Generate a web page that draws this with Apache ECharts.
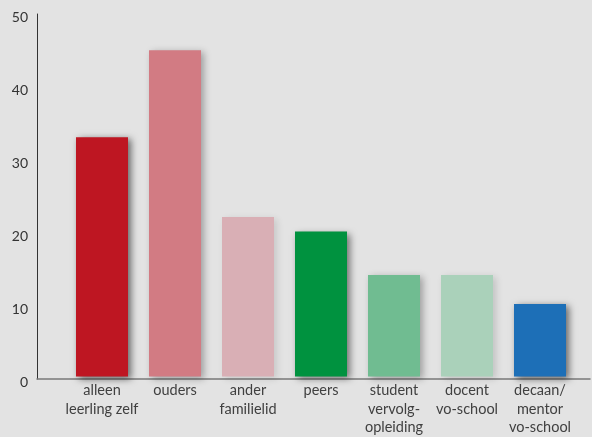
<!DOCTYPE html>
<html><head><meta charset="utf-8">
<script src="https://cdn.jsdelivr.net/npm/echarts@6/dist/echarts.min.js"></script>
<style>html,body{margin:0;padding:0;background:#e3e3e3;}#c{width:592px;height:437px;}</style>
</head><body><div id="c"></div>
<script>
const categories = ['alleen\nleerling zelf', 'ouders', 'ander\nfamilielid', 'peers', 'student\nvervolg-\nopleiding', 'docent\nvo-school', 'decaan/\nmentor\nvo-school'];
const values = [33, 45, 22, 20, 14, 14, 10];
const barColors = ['#be1622', '#d27b83', '#d9afb5', '#00923f', '#70bc91', '#aad1ba', '#1d6fb7'];
const shadowColors = ['rgba(0,0,0,0.55)', 'rgba(0,0,0,0.3)', 'rgba(0,0,0,0.12)', 'rgba(0,0,0,0.5)', 'rgba(0,0,0,0.3)', 'rgba(0,0,0,0.15)', 'rgba(0,0,0,0.55)'];
const yTicks = [0, 10, 20, 30, 40, 50];

const font = 'Lato, "Open Sans", sans-serif';
const chart = echarts.init(document.getElementById('c'));
chart.setOption({
  backgroundColor: '#e3e3e3',
  animation: false,
  grid: [
    {left: 37, right: 2, top: 14, bottom: 58},
    {left: 65.5, width: 511, top: 14, bottom: 58}
  ],
  xAxis: [
    {gridIndex: 0, type: 'value', min: 0, max: 1, axisLine: {show: true, lineStyle: {color: '#7a7a7a', width: 1.5}}, axisTick: {show: false}, axisLabel: {show: false}, splitLine: {show: false}},
    {gridIndex: 1, type: 'category', data: categories, axisLine: {show: false}, axisTick: {show: false},
      axisLabel: {color: '#404040', fontFamily: font, fontSize: 14.5, lineHeight: 18.5, margin: 5, interval: 0}}
  ],
  yAxis: [
    {gridIndex: 0, type: 'value', min: yTicks[0], max: yTicks[yTicks.length - 1], interval: 10,
      axisLine: {show: true, lineStyle: {color: '#333', width: 1}}, axisTick: {show: false}, splitLine: {show: false},
      axisLabel: {color: '#333', fontFamily: font, fontSize: 14, margin: 9, verticalAlign: 'top', padding: [-4, 0, 0, 0]}},
    {gridIndex: 1, type: 'value', min: 0, max: 50, show: false}
  ],
  series: [{
    type: 'bar', xAxisIndex: 1, yAxisIndex: 1, barWidth: 52,
    data: values.map((v, i) => ({value: v, itemStyle: {color: barColors[i], shadowColor: shadowColors[i], shadowBlur: 7, shadowOffsetX: 3, shadowOffsetY: 2}}))
  }]
});
</script></body></html>
